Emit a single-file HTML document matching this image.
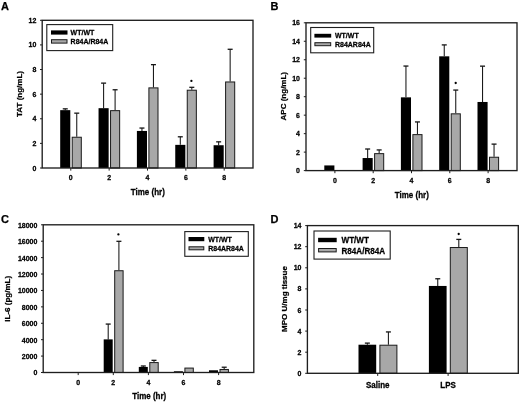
<!DOCTYPE html>
<html><head><meta charset="utf-8"><style>
html,body{margin:0;padding:0;background:#fff;}
body{width:520px;height:402px;overflow:hidden;}
svg{display:block;font-family:"Liberation Sans", sans-serif;}
svg{will-change:transform;}
</style></head><body>
<svg width="520" height="402" viewBox="0 0 520 402">
<rect width="520" height="402" fill="#fff"/>
<line x1="65.25" y1="110.15" x2="65.25" y2="108.85" stroke="#151515" stroke-width="1.05"/>
<line x1="62.75" y1="108.85" x2="67.75" y2="108.85" stroke="#151515" stroke-width="1.3"/>
<rect x="60.20" y="110.15" width="10.10" height="57.85" fill="#000"/>
<line x1="76.75" y1="136.74" x2="76.75" y2="113.16" stroke="#151515" stroke-width="1.05"/>
<line x1="74.25" y1="113.16" x2="79.25" y2="113.16" stroke="#151515" stroke-width="1.3"/>
<rect x="72.20" y="137.24" width="9.10" height="30.76" fill="#a8a8a8" stroke="#1a1a1a" stroke-width="1.0"/>
<line x1="103.60" y1="108.18" x2="103.60" y2="83.13" stroke="#151515" stroke-width="1.05"/>
<line x1="101.10" y1="83.13" x2="106.10" y2="83.13" stroke="#151515" stroke-width="1.3"/>
<rect x="98.55" y="108.18" width="10.10" height="59.82" fill="#000"/>
<line x1="115.10" y1="110.15" x2="115.10" y2="89.77" stroke="#151515" stroke-width="1.05"/>
<line x1="112.60" y1="89.77" x2="117.60" y2="89.77" stroke="#151515" stroke-width="1.3"/>
<rect x="110.55" y="110.65" width="9.10" height="57.35" fill="#a8a8a8" stroke="#1a1a1a" stroke-width="1.0"/>
<line x1="141.95" y1="130.95" x2="141.95" y2="128.05" stroke="#151515" stroke-width="1.05"/>
<line x1="139.45" y1="128.05" x2="144.45" y2="128.05" stroke="#151515" stroke-width="1.3"/>
<rect x="136.90" y="130.95" width="10.10" height="37.05" fill="#000"/>
<line x1="153.45" y1="87.38" x2="153.45" y2="64.66" stroke="#151515" stroke-width="1.05"/>
<line x1="150.95" y1="64.66" x2="155.95" y2="64.66" stroke="#151515" stroke-width="1.3"/>
<rect x="148.90" y="87.88" width="9.10" height="80.12" fill="#a8a8a8" stroke="#1a1a1a" stroke-width="1.0"/>
<line x1="180.30" y1="144.86" x2="180.30" y2="136.79" stroke="#151515" stroke-width="1.05"/>
<line x1="177.80" y1="136.79" x2="182.80" y2="136.79" stroke="#151515" stroke-width="1.3"/>
<rect x="175.25" y="144.86" width="10.10" height="23.14" fill="#000"/>
<line x1="191.80" y1="89.72" x2="191.80" y2="87.31" stroke="#151515" stroke-width="1.05"/>
<line x1="189.30" y1="87.31" x2="194.30" y2="87.31" stroke="#151515" stroke-width="1.3"/>
<rect x="187.25" y="90.22" width="9.10" height="77.78" fill="#a8a8a8" stroke="#1a1a1a" stroke-width="1.0"/>
<line x1="218.65" y1="145.23" x2="218.65" y2="141.84" stroke="#151515" stroke-width="1.05"/>
<line x1="216.15" y1="141.84" x2="221.15" y2="141.84" stroke="#151515" stroke-width="1.3"/>
<rect x="213.60" y="145.23" width="10.10" height="22.77" fill="#000"/>
<line x1="230.15" y1="81.47" x2="230.15" y2="49.28" stroke="#151515" stroke-width="1.05"/>
<line x1="227.65" y1="49.28" x2="232.65" y2="49.28" stroke="#151515" stroke-width="1.3"/>
<rect x="225.60" y="81.97" width="9.10" height="86.03" fill="#a8a8a8" stroke="#1a1a1a" stroke-width="1.0"/>
<rect x="42.20" y="20.30" width="210.80" height="147.70" fill="none" stroke="#1e1e1e" stroke-width="1.35"/>
<line x1="40.00" y1="168.00" x2="42.20" y2="168.00" stroke="#1e1e1e" stroke-width="1.0"/>
<text transform="translate(36.40 170.52) scale(1 1.13)" font-size="7.0" font-weight="bold" text-anchor="end" stroke="#000" stroke-width="0.25">0</text>
<line x1="40.00" y1="143.38" x2="42.20" y2="143.38" stroke="#1e1e1e" stroke-width="1.0"/>
<text transform="translate(36.40 145.90) scale(1 1.13)" font-size="7.0" font-weight="bold" text-anchor="end" stroke="#000" stroke-width="0.25">2</text>
<line x1="40.00" y1="118.77" x2="42.20" y2="118.77" stroke="#1e1e1e" stroke-width="1.0"/>
<text transform="translate(36.40 121.29) scale(1 1.13)" font-size="7.0" font-weight="bold" text-anchor="end" stroke="#000" stroke-width="0.25">4</text>
<line x1="40.00" y1="94.15" x2="42.20" y2="94.15" stroke="#1e1e1e" stroke-width="1.0"/>
<text transform="translate(36.40 96.67) scale(1 1.13)" font-size="7.0" font-weight="bold" text-anchor="end" stroke="#000" stroke-width="0.25">6</text>
<line x1="40.00" y1="69.53" x2="42.20" y2="69.53" stroke="#1e1e1e" stroke-width="1.0"/>
<text transform="translate(36.40 72.05) scale(1 1.13)" font-size="7.0" font-weight="bold" text-anchor="end" stroke="#000" stroke-width="0.25">8</text>
<line x1="40.00" y1="44.92" x2="42.20" y2="44.92" stroke="#1e1e1e" stroke-width="1.0"/>
<text transform="translate(36.40 47.44) scale(1 1.13)" font-size="7.0" font-weight="bold" text-anchor="end" stroke="#000" stroke-width="0.25">10</text>
<line x1="40.00" y1="20.30" x2="42.20" y2="20.30" stroke="#1e1e1e" stroke-width="1.0"/>
<text transform="translate(36.40 22.82) scale(1 1.13)" font-size="7.0" font-weight="bold" text-anchor="end" stroke="#000" stroke-width="0.25">12</text>
<line x1="70.80" y1="168.00" x2="70.80" y2="170.60" stroke="#1e1e1e" stroke-width="1.0"/>
<text transform="translate(70.80 180.40) scale(1 1.13)" font-size="7.0" font-weight="bold" text-anchor="middle" stroke="#000" stroke-width="0.25">0</text>
<line x1="109.15" y1="168.00" x2="109.15" y2="170.60" stroke="#1e1e1e" stroke-width="1.0"/>
<text transform="translate(109.15 180.40) scale(1 1.13)" font-size="7.0" font-weight="bold" text-anchor="middle" stroke="#000" stroke-width="0.25">2</text>
<line x1="147.50" y1="168.00" x2="147.50" y2="170.60" stroke="#1e1e1e" stroke-width="1.0"/>
<text transform="translate(147.50 180.40) scale(1 1.13)" font-size="7.0" font-weight="bold" text-anchor="middle" stroke="#000" stroke-width="0.25">4</text>
<line x1="185.85" y1="168.00" x2="185.85" y2="170.60" stroke="#1e1e1e" stroke-width="1.0"/>
<text transform="translate(185.85 180.40) scale(1 1.13)" font-size="7.0" font-weight="bold" text-anchor="middle" stroke="#000" stroke-width="0.25">6</text>
<line x1="224.20" y1="168.00" x2="224.20" y2="170.60" stroke="#1e1e1e" stroke-width="1.0"/>
<text transform="translate(224.20 180.40) scale(1 1.13)" font-size="7.0" font-weight="bold" text-anchor="middle" stroke="#000" stroke-width="0.25">8</text>
<text transform="translate(147.80 194.50) scale(1 1.13)" font-size="8" font-weight="bold" text-anchor="middle" stroke="#000" stroke-width="0.25">Time (hr)</text>
<text transform="translate(21.60 94.00) rotate(-90)" font-size="8" font-weight="bold" text-anchor="middle" stroke="#000" stroke-width="0.25">TAT (ng/mL)</text>
<circle cx="191.40" cy="80.90" r="1.15" fill="#000"/>
<rect x="46.80" y="24.60" width="65.90" height="26.00" fill="#fff" stroke="#1e1e1e" stroke-width="1.1"/>
<rect x="51.00" y="30.40" width="16.50" height="4.20" fill="#000"/>
<rect x="51.50" y="39.70" width="15.50" height="3.40" fill="#a8a8a8" stroke="#1a1a1a" stroke-width="1.0"/>
<text transform="translate(70.60 35.02) scale(1 1.13)" font-size="7" font-weight="bold" text-anchor="start" stroke="#000" stroke-width="0.25">WT/WT</text>
<text transform="translate(70.60 43.92) scale(1 1.13)" font-size="7" font-weight="bold" text-anchor="start" stroke="#000" stroke-width="0.25">R84A/R84A</text>
<text transform="translate(1.00 9.50)" font-size="11" font-weight="bold" text-anchor="start" stroke="#000" stroke-width="0.25">A</text>
<rect x="324.30" y="165.43" width="10.10" height="5.17" fill="#000"/>
<line x1="367.65" y1="158.04" x2="367.65" y2="149.01" stroke="#151515" stroke-width="1.05"/>
<line x1="365.15" y1="149.01" x2="370.15" y2="149.01" stroke="#151515" stroke-width="1.3"/>
<rect x="362.60" y="158.04" width="10.10" height="12.56" fill="#000"/>
<line x1="379.15" y1="153.14" x2="379.15" y2="149.93" stroke="#151515" stroke-width="1.05"/>
<line x1="376.65" y1="149.93" x2="381.65" y2="149.93" stroke="#151515" stroke-width="1.3"/>
<rect x="374.60" y="153.64" width="9.10" height="16.96" fill="#a8a8a8" stroke="#1a1a1a" stroke-width="1.0"/>
<line x1="405.95" y1="97.35" x2="405.95" y2="66.05" stroke="#151515" stroke-width="1.05"/>
<line x1="403.45" y1="66.05" x2="408.45" y2="66.05" stroke="#151515" stroke-width="1.3"/>
<rect x="400.90" y="97.35" width="10.10" height="73.25" fill="#000"/>
<line x1="417.45" y1="134.11" x2="417.45" y2="121.94" stroke="#151515" stroke-width="1.05"/>
<line x1="414.95" y1="121.94" x2="419.95" y2="121.94" stroke="#151515" stroke-width="1.3"/>
<rect x="412.90" y="134.61" width="9.10" height="35.99" fill="#a8a8a8" stroke="#1a1a1a" stroke-width="1.0"/>
<line x1="444.25" y1="56.33" x2="444.25" y2="44.90" stroke="#151515" stroke-width="1.05"/>
<line x1="441.75" y1="44.90" x2="446.75" y2="44.90" stroke="#151515" stroke-width="1.3"/>
<rect x="439.20" y="56.33" width="10.10" height="114.27" fill="#000"/>
<line x1="455.75" y1="113.33" x2="455.75" y2="90.07" stroke="#151515" stroke-width="1.05"/>
<line x1="453.25" y1="90.07" x2="458.25" y2="90.07" stroke="#151515" stroke-width="1.3"/>
<rect x="451.20" y="113.83" width="9.10" height="56.77" fill="#a8a8a8" stroke="#1a1a1a" stroke-width="1.0"/>
<line x1="482.55" y1="101.97" x2="482.55" y2="66.15" stroke="#151515" stroke-width="1.05"/>
<line x1="480.05" y1="66.15" x2="485.05" y2="66.15" stroke="#151515" stroke-width="1.3"/>
<rect x="477.50" y="101.97" width="10.10" height="68.63" fill="#000"/>
<line x1="494.05" y1="156.74" x2="494.05" y2="144.11" stroke="#151515" stroke-width="1.05"/>
<line x1="491.55" y1="144.11" x2="496.55" y2="144.11" stroke="#151515" stroke-width="1.3"/>
<rect x="489.50" y="157.24" width="9.10" height="13.36" fill="#a8a8a8" stroke="#1a1a1a" stroke-width="1.0"/>
<rect x="306.00" y="22.80" width="211.00" height="147.80" fill="none" stroke="#1e1e1e" stroke-width="1.35"/>
<line x1="303.80" y1="170.60" x2="306.00" y2="170.60" stroke="#1e1e1e" stroke-width="1.0"/>
<text transform="translate(300.00 173.12) scale(1 1.13)" font-size="7.0" font-weight="bold" text-anchor="end" stroke="#000" stroke-width="0.25">0</text>
<line x1="303.80" y1="152.12" x2="306.00" y2="152.12" stroke="#1e1e1e" stroke-width="1.0"/>
<text transform="translate(300.00 154.65) scale(1 1.13)" font-size="7.0" font-weight="bold" text-anchor="end" stroke="#000" stroke-width="0.25">2</text>
<line x1="303.80" y1="133.65" x2="306.00" y2="133.65" stroke="#1e1e1e" stroke-width="1.0"/>
<text transform="translate(300.00 136.17) scale(1 1.13)" font-size="7.0" font-weight="bold" text-anchor="end" stroke="#000" stroke-width="0.25">4</text>
<line x1="303.80" y1="115.17" x2="306.00" y2="115.17" stroke="#1e1e1e" stroke-width="1.0"/>
<text transform="translate(300.00 117.69) scale(1 1.13)" font-size="7.0" font-weight="bold" text-anchor="end" stroke="#000" stroke-width="0.25">6</text>
<line x1="303.80" y1="96.70" x2="306.00" y2="96.70" stroke="#1e1e1e" stroke-width="1.0"/>
<text transform="translate(300.00 99.22) scale(1 1.13)" font-size="7.0" font-weight="bold" text-anchor="end" stroke="#000" stroke-width="0.25">8</text>
<line x1="303.80" y1="78.23" x2="306.00" y2="78.23" stroke="#1e1e1e" stroke-width="1.0"/>
<text transform="translate(300.00 80.75) scale(1 1.13)" font-size="7.0" font-weight="bold" text-anchor="end" stroke="#000" stroke-width="0.25">10</text>
<line x1="303.80" y1="59.75" x2="306.00" y2="59.75" stroke="#1e1e1e" stroke-width="1.0"/>
<text transform="translate(300.00 62.27) scale(1 1.13)" font-size="7.0" font-weight="bold" text-anchor="end" stroke="#000" stroke-width="0.25">12</text>
<line x1="303.80" y1="41.28" x2="306.00" y2="41.28" stroke="#1e1e1e" stroke-width="1.0"/>
<text transform="translate(300.00 43.80) scale(1 1.13)" font-size="7.0" font-weight="bold" text-anchor="end" stroke="#000" stroke-width="0.25">14</text>
<line x1="303.80" y1="22.80" x2="306.00" y2="22.80" stroke="#1e1e1e" stroke-width="1.0"/>
<text transform="translate(300.00 25.32) scale(1 1.13)" font-size="7.0" font-weight="bold" text-anchor="end" stroke="#000" stroke-width="0.25">16</text>
<line x1="334.90" y1="170.60" x2="334.90" y2="173.20" stroke="#1e1e1e" stroke-width="1.0"/>
<text transform="translate(334.90 183.20) scale(1 1.13)" font-size="7.0" font-weight="bold" text-anchor="middle" stroke="#000" stroke-width="0.25">0</text>
<line x1="373.20" y1="170.60" x2="373.20" y2="173.20" stroke="#1e1e1e" stroke-width="1.0"/>
<text transform="translate(373.20 183.20) scale(1 1.13)" font-size="7.0" font-weight="bold" text-anchor="middle" stroke="#000" stroke-width="0.25">2</text>
<line x1="411.50" y1="170.60" x2="411.50" y2="173.20" stroke="#1e1e1e" stroke-width="1.0"/>
<text transform="translate(411.50 183.20) scale(1 1.13)" font-size="7.0" font-weight="bold" text-anchor="middle" stroke="#000" stroke-width="0.25">4</text>
<line x1="449.80" y1="170.60" x2="449.80" y2="173.20" stroke="#1e1e1e" stroke-width="1.0"/>
<text transform="translate(449.80 183.20) scale(1 1.13)" font-size="7.0" font-weight="bold" text-anchor="middle" stroke="#000" stroke-width="0.25">6</text>
<line x1="488.10" y1="170.60" x2="488.10" y2="173.20" stroke="#1e1e1e" stroke-width="1.0"/>
<text transform="translate(488.10 183.20) scale(1 1.13)" font-size="7.0" font-weight="bold" text-anchor="middle" stroke="#000" stroke-width="0.25">8</text>
<text transform="translate(411.80 198.20) scale(1 1.13)" font-size="8" font-weight="bold" text-anchor="middle" stroke="#000" stroke-width="0.25">Time (hr)</text>
<text transform="translate(285.80 96.20) rotate(-90)" font-size="8" font-weight="bold" text-anchor="middle" stroke="#000" stroke-width="0.25">APC (ng/mL)</text>
<circle cx="455.70" cy="83.00" r="1.15" fill="#000"/>
<rect x="310.70" y="27.50" width="63.00" height="25.30" fill="#fff" stroke="#1e1e1e" stroke-width="1.1"/>
<rect x="314.40" y="33.80" width="16.80" height="3.80" fill="#000"/>
<rect x="314.90" y="42.70" width="15.80" height="3.00" fill="#a8a8a8" stroke="#1a1a1a" stroke-width="1.0"/>
<text transform="translate(335.00 38.22) scale(1 1.13)" font-size="7" font-weight="bold" text-anchor="start" stroke="#000" stroke-width="0.25">WT/WT</text>
<text transform="translate(335.00 46.72) scale(1 1.13)" font-size="7" font-weight="bold" text-anchor="start" stroke="#000" stroke-width="0.25">R84AR84A</text>
<text transform="translate(270.50 9.50)" font-size="11" font-weight="bold" text-anchor="start" stroke="#000" stroke-width="0.25">B</text>
<rect x="68.60" y="372.34" width="9.00" height="0.16" fill="#000"/>
<rect x="79.60" y="372.84" width="8.40" height="0.00" fill="#a8a8a8" stroke="#1a1a1a" stroke-width="1.0"/>
<line x1="108.20" y1="339.38" x2="108.20" y2="324.07" stroke="#151515" stroke-width="1.05"/>
<line x1="105.70" y1="324.07" x2="110.70" y2="324.07" stroke="#151515" stroke-width="1.3"/>
<rect x="103.70" y="339.38" width="9.00" height="33.12" fill="#000"/>
<line x1="118.90" y1="270.23" x2="118.90" y2="241.31" stroke="#151515" stroke-width="1.05"/>
<line x1="116.40" y1="241.31" x2="121.40" y2="241.31" stroke="#151515" stroke-width="1.3"/>
<rect x="114.70" y="270.73" width="8.40" height="101.77" fill="#a8a8a8" stroke="#1a1a1a" stroke-width="1.0"/>
<line x1="143.30" y1="366.92" x2="143.30" y2="365.99" stroke="#151515" stroke-width="1.05"/>
<line x1="140.80" y1="365.99" x2="145.80" y2="365.99" stroke="#151515" stroke-width="1.3"/>
<rect x="138.80" y="366.92" width="9.00" height="5.58" fill="#000"/>
<line x1="154.00" y1="362.08" x2="154.00" y2="360.33" stroke="#151515" stroke-width="1.05"/>
<line x1="151.50" y1="360.33" x2="156.50" y2="360.33" stroke="#151515" stroke-width="1.3"/>
<rect x="149.80" y="362.58" width="8.40" height="9.92" fill="#a8a8a8" stroke="#1a1a1a" stroke-width="1.0"/>
<rect x="173.90" y="371.27" width="9.00" height="1.23" fill="#000"/>
<rect x="184.90" y="368.08" width="8.40" height="4.42" fill="#a8a8a8" stroke="#1a1a1a" stroke-width="1.0"/>
<rect x="209.00" y="370.28" width="9.00" height="2.22" fill="#000"/>
<line x1="224.20" y1="368.97" x2="224.20" y2="367.22" stroke="#151515" stroke-width="1.05"/>
<line x1="221.70" y1="367.22" x2="226.70" y2="367.22" stroke="#151515" stroke-width="1.3"/>
<rect x="220.00" y="369.47" width="8.40" height="3.03" fill="#a8a8a8" stroke="#1a1a1a" stroke-width="1.0"/>
<rect x="43.20" y="224.80" width="210.60" height="147.70" fill="none" stroke="#1e1e1e" stroke-width="1.35"/>
<line x1="41.00" y1="372.50" x2="43.20" y2="372.50" stroke="#1e1e1e" stroke-width="1.0"/>
<text transform="translate(37.40 375.42) scale(1 1.13)" font-size="7.0" font-weight="bold" text-anchor="end" stroke="#000" stroke-width="0.25">0</text>
<line x1="41.00" y1="356.09" x2="43.20" y2="356.09" stroke="#1e1e1e" stroke-width="1.0"/>
<text transform="translate(37.40 359.01) scale(1 1.13)" font-size="7.0" font-weight="bold" text-anchor="end" stroke="#000" stroke-width="0.25">2000</text>
<line x1="41.00" y1="339.68" x2="43.20" y2="339.68" stroke="#1e1e1e" stroke-width="1.0"/>
<text transform="translate(37.40 342.60) scale(1 1.13)" font-size="7.0" font-weight="bold" text-anchor="end" stroke="#000" stroke-width="0.25">4000</text>
<line x1="41.00" y1="323.27" x2="43.20" y2="323.27" stroke="#1e1e1e" stroke-width="1.0"/>
<text transform="translate(37.40 326.19) scale(1 1.13)" font-size="7.0" font-weight="bold" text-anchor="end" stroke="#000" stroke-width="0.25">6000</text>
<line x1="41.00" y1="306.86" x2="43.20" y2="306.86" stroke="#1e1e1e" stroke-width="1.0"/>
<text transform="translate(37.40 309.78) scale(1 1.13)" font-size="7.0" font-weight="bold" text-anchor="end" stroke="#000" stroke-width="0.25">8000</text>
<line x1="41.00" y1="290.44" x2="43.20" y2="290.44" stroke="#1e1e1e" stroke-width="1.0"/>
<text transform="translate(37.40 293.36) scale(1 1.13)" font-size="7.0" font-weight="bold" text-anchor="end" stroke="#000" stroke-width="0.25">10000</text>
<line x1="41.00" y1="274.03" x2="43.20" y2="274.03" stroke="#1e1e1e" stroke-width="1.0"/>
<text transform="translate(37.40 276.95) scale(1 1.13)" font-size="7.0" font-weight="bold" text-anchor="end" stroke="#000" stroke-width="0.25">12000</text>
<line x1="41.00" y1="257.62" x2="43.20" y2="257.62" stroke="#1e1e1e" stroke-width="1.0"/>
<text transform="translate(37.40 260.54) scale(1 1.13)" font-size="7.0" font-weight="bold" text-anchor="end" stroke="#000" stroke-width="0.25">14000</text>
<line x1="41.00" y1="241.21" x2="43.20" y2="241.21" stroke="#1e1e1e" stroke-width="1.0"/>
<text transform="translate(37.40 244.13) scale(1 1.13)" font-size="7.0" font-weight="bold" text-anchor="end" stroke="#000" stroke-width="0.25">16000</text>
<line x1="41.00" y1="224.80" x2="43.20" y2="224.80" stroke="#1e1e1e" stroke-width="1.0"/>
<text transform="translate(37.40 227.72) scale(1 1.13)" font-size="7.0" font-weight="bold" text-anchor="end" stroke="#000" stroke-width="0.25">18000</text>
<line x1="78.20" y1="372.50" x2="78.20" y2="375.10" stroke="#1e1e1e" stroke-width="1.0"/>
<text transform="translate(78.20 385.00) scale(1 1.13)" font-size="7.0" font-weight="bold" text-anchor="middle" stroke="#000" stroke-width="0.25">0</text>
<line x1="113.30" y1="372.50" x2="113.30" y2="375.10" stroke="#1e1e1e" stroke-width="1.0"/>
<text transform="translate(113.30 385.00) scale(1 1.13)" font-size="7.0" font-weight="bold" text-anchor="middle" stroke="#000" stroke-width="0.25">2</text>
<line x1="148.40" y1="372.50" x2="148.40" y2="375.10" stroke="#1e1e1e" stroke-width="1.0"/>
<text transform="translate(148.40 385.00) scale(1 1.13)" font-size="7.0" font-weight="bold" text-anchor="middle" stroke="#000" stroke-width="0.25">4</text>
<line x1="183.50" y1="372.50" x2="183.50" y2="375.10" stroke="#1e1e1e" stroke-width="1.0"/>
<text transform="translate(183.50 385.00) scale(1 1.13)" font-size="7.0" font-weight="bold" text-anchor="middle" stroke="#000" stroke-width="0.25">6</text>
<line x1="218.60" y1="372.50" x2="218.60" y2="375.10" stroke="#1e1e1e" stroke-width="1.0"/>
<text transform="translate(218.60 385.00) scale(1 1.13)" font-size="7.0" font-weight="bold" text-anchor="middle" stroke="#000" stroke-width="0.25">8</text>
<text transform="translate(149.20 399.40) scale(1 1.13)" font-size="8" font-weight="bold" text-anchor="middle" stroke="#000" stroke-width="0.25">Time (hr)</text>
<text transform="translate(10.40 298.80) rotate(-90)" font-size="8" font-weight="bold" text-anchor="middle" stroke="#000" stroke-width="0.25">IL-6 (pg/mL)</text>
<circle cx="118.40" cy="234.40" r="1.15" fill="#000"/>
<rect x="184.80" y="231.60" width="63.50" height="24.70" fill="#fff" stroke="#1e1e1e" stroke-width="1.1"/>
<rect x="188.50" y="237.00" width="15.80" height="4.20" fill="#000"/>
<rect x="189.00" y="246.80" width="14.80" height="3.00" fill="#a8a8a8" stroke="#1a1a1a" stroke-width="1.0"/>
<text transform="translate(208.20 241.62) scale(1 1.13)" font-size="7" font-weight="bold" text-anchor="start" stroke="#000" stroke-width="0.25">WT/WT</text>
<text transform="translate(208.20 250.82) scale(1 1.13)" font-size="7" font-weight="bold" text-anchor="start" stroke="#000" stroke-width="0.25">R84AR84A</text>
<text transform="translate(1.00 222.90)" font-size="11" font-weight="bold" text-anchor="start" stroke="#000" stroke-width="0.25">C</text>
<line x1="367.35" y1="344.71" x2="367.35" y2="343.11" stroke="#151515" stroke-width="1.05"/>
<line x1="364.85" y1="343.11" x2="369.85" y2="343.11" stroke="#151515" stroke-width="1.3"/>
<rect x="358.50" y="344.71" width="17.70" height="28.59" fill="#000"/>
<line x1="388.40" y1="344.71" x2="388.40" y2="331.93" stroke="#151515" stroke-width="1.05"/>
<line x1="385.90" y1="331.93" x2="390.90" y2="331.93" stroke="#151515" stroke-width="1.3"/>
<rect x="379.90" y="345.21" width="17.00" height="28.09" fill="#a8a8a8" stroke="#1a1a1a" stroke-width="1.0"/>
<line x1="437.75" y1="285.95" x2="437.75" y2="278.76" stroke="#151515" stroke-width="1.05"/>
<line x1="435.25" y1="278.76" x2="440.25" y2="278.76" stroke="#151515" stroke-width="1.3"/>
<rect x="428.90" y="285.95" width="17.70" height="87.35" fill="#000"/>
<line x1="458.80" y1="247.02" x2="458.80" y2="239.40" stroke="#151515" stroke-width="1.05"/>
<line x1="456.30" y1="239.40" x2="461.30" y2="239.40" stroke="#151515" stroke-width="1.3"/>
<rect x="450.30" y="247.52" width="17.00" height="125.78" fill="#a8a8a8" stroke="#1a1a1a" stroke-width="1.0"/>
<rect x="307.40" y="225.60" width="210.90" height="147.70" fill="none" stroke="#1e1e1e" stroke-width="1.35"/>
<line x1="305.20" y1="373.30" x2="307.40" y2="373.30" stroke="#1e1e1e" stroke-width="1.0"/>
<text transform="translate(301.50 375.82) scale(1 1.13)" font-size="7.0" font-weight="bold" text-anchor="end" stroke="#000" stroke-width="0.25">0</text>
<line x1="305.20" y1="352.20" x2="307.40" y2="352.20" stroke="#1e1e1e" stroke-width="1.0"/>
<text transform="translate(301.50 354.72) scale(1 1.13)" font-size="7.0" font-weight="bold" text-anchor="end" stroke="#000" stroke-width="0.25">2</text>
<line x1="305.20" y1="331.10" x2="307.40" y2="331.10" stroke="#1e1e1e" stroke-width="1.0"/>
<text transform="translate(301.50 333.62) scale(1 1.13)" font-size="7.0" font-weight="bold" text-anchor="end" stroke="#000" stroke-width="0.25">4</text>
<line x1="305.20" y1="310.00" x2="307.40" y2="310.00" stroke="#1e1e1e" stroke-width="1.0"/>
<text transform="translate(301.50 312.52) scale(1 1.13)" font-size="7.0" font-weight="bold" text-anchor="end" stroke="#000" stroke-width="0.25">6</text>
<line x1="305.20" y1="288.90" x2="307.40" y2="288.90" stroke="#1e1e1e" stroke-width="1.0"/>
<text transform="translate(301.50 291.42) scale(1 1.13)" font-size="7.0" font-weight="bold" text-anchor="end" stroke="#000" stroke-width="0.25">8</text>
<line x1="305.20" y1="267.80" x2="307.40" y2="267.80" stroke="#1e1e1e" stroke-width="1.0"/>
<text transform="translate(301.50 270.32) scale(1 1.13)" font-size="7.0" font-weight="bold" text-anchor="end" stroke="#000" stroke-width="0.25">10</text>
<line x1="305.20" y1="246.70" x2="307.40" y2="246.70" stroke="#1e1e1e" stroke-width="1.0"/>
<text transform="translate(301.50 249.22) scale(1 1.13)" font-size="7.0" font-weight="bold" text-anchor="end" stroke="#000" stroke-width="0.25">12</text>
<line x1="305.20" y1="225.60" x2="307.40" y2="225.60" stroke="#1e1e1e" stroke-width="1.0"/>
<text transform="translate(301.50 228.12) scale(1 1.13)" font-size="7.0" font-weight="bold" text-anchor="end" stroke="#000" stroke-width="0.25">14</text>
<line x1="377.70" y1="373.30" x2="377.70" y2="375.90" stroke="#1e1e1e" stroke-width="1.0"/>
<text transform="translate(377.70 388.00) scale(1 1.13)" font-size="8" font-weight="bold" text-anchor="middle" stroke="#000" stroke-width="0.25">Saline</text>
<line x1="448.10" y1="373.30" x2="448.10" y2="375.90" stroke="#1e1e1e" stroke-width="1.0"/>
<text transform="translate(448.10 388.00) scale(1 1.13)" font-size="8" font-weight="bold" text-anchor="middle" stroke="#000" stroke-width="0.25">LPS</text>
<text transform="translate(0.00 0.00) scale(1 1.13)" font-size="8" font-weight="bold" text-anchor="middle" stroke="#000" stroke-width="0.25"></text>
<text transform="translate(286.50 299.00) rotate(-90)" font-size="8" font-weight="bold" text-anchor="middle" stroke="#000" stroke-width="0.25">MPO U/mg tissue</text>
<circle cx="458.70" cy="234.00" r="1.15" fill="#000"/>
<rect x="314.00" y="231.00" width="76.20" height="28.10" fill="#fff" stroke="#1e1e1e" stroke-width="1.1"/>
<rect x="318.10" y="237.80" width="18.60" height="4.40" fill="#000"/>
<rect x="318.60" y="248.50" width="17.60" height="3.40" fill="#a8a8a8" stroke="#1a1a1a" stroke-width="1.0"/>
<text transform="translate(341.50 243.32) scale(1 1.13)" font-size="8.1" font-weight="bold" text-anchor="start" stroke="#000" stroke-width="0.25">WT/WT</text>
<text transform="translate(341.50 253.52) scale(1 1.13)" font-size="8.1" font-weight="bold" text-anchor="start" stroke="#000" stroke-width="0.25">R84A/R84A</text>
<text transform="translate(270.50 222.90)" font-size="11" font-weight="bold" text-anchor="start" stroke="#000" stroke-width="0.25">D</text>
</svg>
</body></html>
